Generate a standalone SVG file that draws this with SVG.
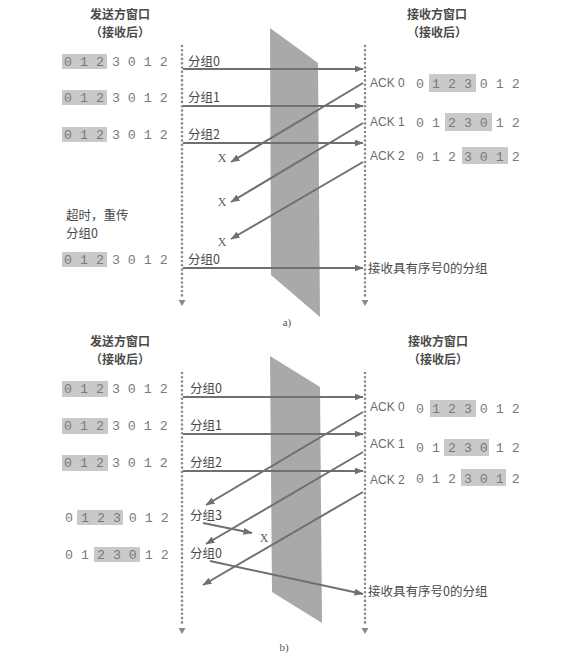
<svg xmlns="http://www.w3.org/2000/svg" width="570" height="659" viewBox="0 0 570 659">
<defs>
<style>
.hdr{font-family:"Noto Sans CJK SC","Noto Sans",sans-serif;font-size:12px;font-weight:bold;fill:#4a4a4a;text-anchor:middle}
.lbl{font-family:"Noto Sans CJK SC","Noto Sans",sans-serif;font-size:12.5px;fill:#4a4a4a}
.dig{font-family:"Liberation Mono",monospace;font-size:13.3px;fill:#7a7a7a}
.ack{font-family:"Liberation Sans",sans-serif;font-size:12px;fill:#6a6a6a}
.x{font-family:"Liberation Serif",serif;font-size:12px;fill:#5a5a5a;text-anchor:middle}
.cap{font-family:"Liberation Serif",serif;font-size:11px;fill:#555;text-anchor:middle}
.shade{fill:#c9c9c9}
.chan{fill:#a9a9a9}
.tl{stroke:#8a8a8a;stroke-width:2.6;stroke-linecap:round;stroke-dasharray:0 4.3;fill:none}
.tri{fill:#8a8a8a}
.arr{stroke:#707070;stroke-width:2;fill:none;marker-end:url(#ah)}
</style>
<marker id="ah" markerUnits="userSpaceOnUse" markerWidth="9" markerHeight="7" refX="8.5" refY="3.5" orient="auto">
<path d="M0,0 L9,3.5 L0,7 Z" fill="#707070"/>
</marker>
</defs>
<rect width="570" height="659" fill="#ffffff"/>

<!-- ===== Part a ===== -->
<g id="channel-a"><polygon class="chan" points="270,28 318,63 320,317 271,275"/></g>
<g id="timeline-a-sender"><line class="tl" x1="182" y1="46" x2="182" y2="298"/><polygon class="tri" points="178.5,300 185.5,300 182,306"/></g>
<g id="timeline-a-receiver"><line class="tl" x1="365" y1="46" x2="365" y2="298"/><polygon class="tri" points="361.5,300 368.5,300 365,306"/></g>

<g id="sender-header-a"><text class="hdr" x="120" y="19">发送方窗口</text><text class="hdr" x="120" y="37">（接收后）</text></g>
<g id="receiver-header-a"><text class="hdr" x="437" y="19">接收方窗口</text><text class="hdr" x="437" y="37">（接收后）</text></g>

<g id="a-sw1"><rect class="shade" x="62" y="54" width="45" height="15"/><text class="dig" x="64" y="66">0 1 2 3 0 1 2</text></g>
<g id="a-sw2"><rect class="shade" x="62" y="90" width="45" height="15"/><text class="dig" x="64" y="102">0 1 2 3 0 1 2</text></g>
<g id="a-sw3"><rect class="shade" x="62" y="127" width="45" height="15"/><text class="dig" x="64" y="139">0 1 2 3 0 1 2</text></g>
<g id="a-timeout"><text class="lbl" x="66" y="220">超时，重传</text><text class="lbl" x="66" y="238">分组0</text></g>
<g id="a-sw4"><rect class="shade" x="62" y="252" width="45" height="15"/><text class="dig" x="64" y="264">0 1 2 3 0 1 2</text></g>

<g id="a-rw1"><text class="ack" x="370" y="87">ACK 0</text><rect class="shade" x="429" y="74" width="47" height="18"/><text class="dig" x="416" y="88">0 1 2 3 0 1 2</text></g>
<g id="a-rw2"><text class="ack" x="370" y="126">ACK 1</text><rect class="shade" x="445" y="113" width="47" height="18"/><text class="dig" x="416" y="127">0 1 2 3 0 1 2</text></g>
<g id="a-rw3"><text class="ack" x="370" y="160">ACK 2</text><rect class="shade" x="462" y="147" width="46" height="17"/><text class="dig" x="416" y="161">0 1 2 3 0 1 2</text></g>

<g id="a-connectors">
<line class="arr" x1="183" y1="69" x2="363" y2="69"/>
<line class="arr" x1="183" y1="106" x2="363" y2="106"/>
<line class="arr" x1="183" y1="143" x2="363" y2="143"/>
<line class="arr" x1="183" y1="268" x2="363" y2="268"/>
<line class="arr" x1="363" y1="83" x2="231" y2="162"/>
<line class="arr" x1="363" y1="123" x2="231" y2="202"/>
<line class="arr" x1="363" y1="162" x2="231" y2="239"/>
</g>
<g id="a-pkt-labels">
<text class="lbl" x="188" y="66">分组0</text>
<text class="lbl" x="188" y="102">分组1</text>
<text class="lbl" x="188" y="139">分组2</text>
<text class="lbl" x="188" y="264">分组0</text>
</g>
<g id="a-losses"><text class="x" x="222" y="162">X</text><text class="x" x="222" y="206">X</text><text class="x" x="222" y="246">X</text></g>
<g id="a-recv-note"><text class="lbl" x="368" y="273">接收具有序号0的分组</text></g>
<text class="cap" x="287" y="326">a)</text>

<!-- ===== Part b ===== -->
<g id="channel-b"><polygon class="chan" points="270,356 320,387 322,623 272,592"/></g>
<g id="timeline-b-sender"><line class="tl" x1="182" y1="373" x2="182" y2="626"/><polygon class="tri" points="178.5,628 185.5,628 182,634"/></g>
<g id="timeline-b-receiver"><line class="tl" x1="365" y1="373" x2="365" y2="626"/><polygon class="tri" points="361.5,628 368.5,628 365,634"/></g>

<g id="sender-header-b"><text class="hdr" x="120" y="346">发送方窗口</text><text class="hdr" x="120" y="364">（接收后）</text></g>
<g id="receiver-header-b"><text class="hdr" x="438" y="346">接收方窗口</text><text class="hdr" x="438" y="364">（接收后）</text></g>

<g id="b-sw1"><rect class="shade" x="62" y="381" width="46" height="16"/><text class="dig" x="64" y="393">0 1 2 3 0 1 2</text></g>
<g id="b-sw2"><rect class="shade" x="62" y="418" width="46" height="16"/><text class="dig" x="64" y="430">0 1 2 3 0 1 2</text></g>
<g id="b-sw3"><rect class="shade" x="62" y="455" width="46" height="16"/><text class="dig" x="64" y="467">0 1 2 3 0 1 2</text></g>
<g id="b-sw4"><rect class="shade" x="77" y="510" width="46" height="15"/><text class="dig" x="65" y="522">0 1 2 3 0 1 2</text></g>
<g id="b-sw5"><rect class="shade" x="94" y="547" width="46" height="15"/><text class="dig" x="65" y="559">0 1 2 3 0 1 2</text></g>

<g id="b-rw1"><text class="ack" x="370" y="411">ACK 0</text><rect class="shade" x="430" y="400" width="46" height="17"/><text class="dig" x="416" y="413">0 1 2 3 0 1 2</text></g>
<g id="b-rw2"><text class="ack" x="370" y="448">ACK 1</text><rect class="shade" x="444" y="439" width="45" height="17"/><text class="dig" x="416" y="452">0 1 2 3 0 1 2</text></g>
<g id="b-rw3"><text class="ack" x="370" y="484">ACK 2</text><rect class="shade" x="461" y="469" width="45" height="17"/><text class="dig" x="416" y="483">0 1 2 3 0 1 2</text></g>

<g id="b-connectors">
<line class="arr" x1="183" y1="397" x2="363" y2="397"/>
<line class="arr" x1="183" y1="434" x2="363" y2="434"/>
<line class="arr" x1="183" y1="471" x2="363" y2="471"/>
<line class="arr" x1="363" y1="412" x2="206" y2="505"/>
<line class="arr" x1="363" y1="452" x2="206" y2="544"/>
<line class="arr" x1="363" y1="492" x2="203" y2="585"/>
<line class="arr" x1="203" y1="523" x2="252" y2="533"/>
<line class="arr" x1="210" y1="561" x2="363" y2="594"/>
</g>
<g id="b-pkt-labels">
<text class="lbl" x="190" y="393">分组0</text>
<text class="lbl" x="190" y="430">分组1</text>
<text class="lbl" x="190" y="467">分组2</text>
<text class="lbl" x="190" y="520">分组3</text>
<text class="lbl" x="190" y="558">分组0</text>
</g>
<g id="b-loss"><text class="x" x="264" y="542">X</text></g>
<g id="b-recv-note"><text class="lbl" x="368" y="596">接收具有序号0的分组</text></g>
<text class="cap" x="284" y="651">b)</text>
</svg>
